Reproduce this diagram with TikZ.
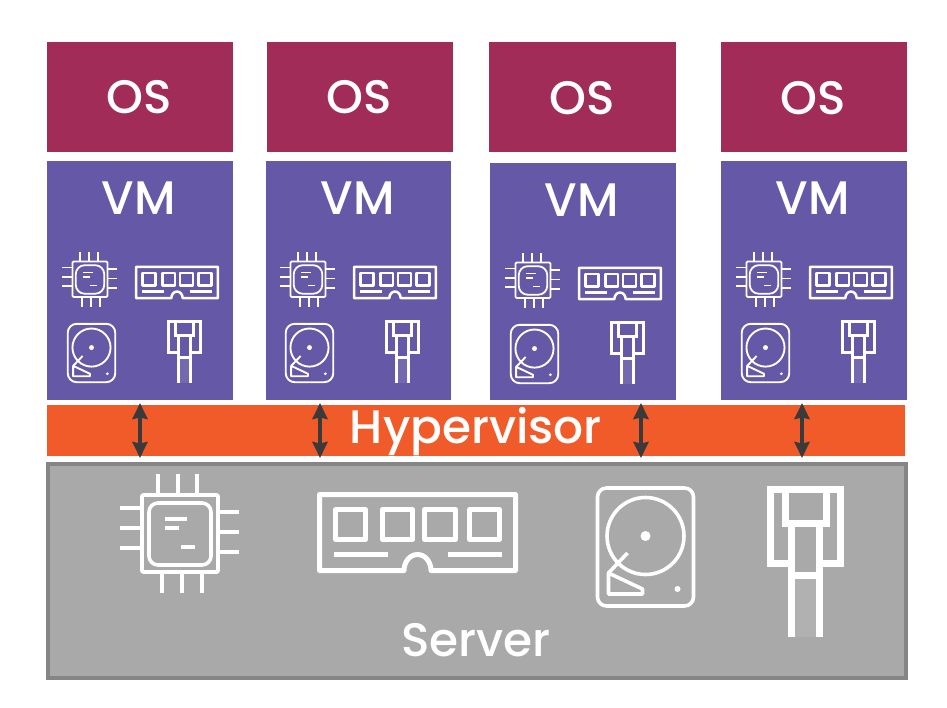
\documentclass[tikz,border=0pt]{standalone}
\usepackage{fontspec}
\setmainfont{Poppins Medium}
\usetikzlibrary{arrows.meta}
\definecolor{oscol}{HTML}{A12C58}
\definecolor{vmcol}{HTML}{6558A6}
\definecolor{hvcol}{HTML}{F15A29}
\definecolor{svcol}{HTML}{A9A9A9}
\definecolor{svline}{HTML}{858585}
\definecolor{arcol}{HTML}{3A3A3A}
\tikzset{
  panel/.style={inner sep=0pt,outer sep=0pt,draw=none,anchor=north west},
  lbl/.style={text=white,inner sep=0pt,font=\fontsize{47}{47}\selectfont},
  ico/.style={draw=white,line join=round},
  updown/.style={draw=arcol,line width=3.8pt,{Stealth[inset=1.5pt,length=16pt,width=15pt]}-{Stealth[inset=1.5pt,length=16pt,width=15pt]}},
  pics/cpu/.style={code={
    \draw[ico,rounded corners=1pt] (-38,-38) rectangle (38,39);
    \draw[ico,rounded corners=9pt] (-31,-30) rectangle (31,32);
    \foreach \a in {-22,-2,17} \draw[ico] (\a,-38) -- (\a,-59);
    \foreach \a in {-18,2,22} \draw[ico] (\a,39) -- (\a,60);
    \foreach \a in {-25,-5,15} \draw[ico] (-38,\a) -- (-60,\a);
    \foreach \a in {-21,-1,19} \draw[ico] (38,\a) -- (59,\a);
    \draw[ico] (-15,-14) -- (7,-14) (-15,-5) -- (-1,-5) (1,14) -- (15,14);
  }},
  pics/ram/.style={code={
    \draw[ico] (-98,-38) -- (98,-38) -- (98,38) -- (13.5,38) arc (0:-180:13.5 and 16) -- (-98,38) -- cycle;
    \foreach \a/\b in {-82/-52,-35/-5,7/38,52/82} \draw[ico] (\a,-23) rectangle (\b,7);
    \draw[ico] (-84,21.5) -- (-30,21.5) (30,21.5) -- (84,21.5);
  }},
  pics/hdd/.style={code={
    \draw[ico,rounded corners=9pt] (-48,-59) rectangle (48,59);
    \draw[ico] (0,-11) circle (38.5);
    \fill[white] (0,-11) circle (5);
    \fill[white] (32,42) circle (3);
    \draw[ico] (-37,26) -- (-18,6);
    \draw[ico] (-37,26) -- (-37,47) -- (-3,47) -- (-3,42) -- cycle;
  }},
  pics/jack/.style={code={
    \path[fill=white,fill opacity=.1] (-14,12) rectangle (14,74);
    \draw[ico,line join=miter] (-14,0.5) -- (-35,0.5) -- (-35,-73.5) -- (35,-73.5) -- (35,0.5) -- (14,0.5);
    \draw[ico,line join=miter] (-20.5,-73.5) -- (-20.5,-40) -- (20.5,-40) -- (20.5,-73.5);
    \draw[ico] (-14,-40) -- (-14,74) (14,-40) -- (14,74);
    \draw[ico] (-14,12) -- (14,12);
  }}
}
\newcommand{\smallset}[2]{%
  \pic[line width=1.8pt,xscale=.46,yscale=.46] at (#1+90,#2+279) {cpu};
  \pic[line width=2.5pt,xscale=.418,yscale=.41] at (#1+177,#2+282.5) {ram};
  \pic[line width=1.9pt,xscale=.495,yscale=.495] at (#1+91.5,#2+353) {hdd};
  \pic[line width=3pt,xscale=.45,yscale=.42] at (#1+184.5,#2+352) {jack};
}
\begin{document}
\begin{tikzpicture}[x=1pt,y=-1pt]
\useasboundingbox (0,0) rectangle (947,707);
\fill[white] (0,0) rectangle (947,707);
% OS
\node[panel,fill=oscol,minimum width=186pt,minimum height=110pt] (os1) at (47,42) {};
\node[panel,fill=oscol,minimum width=186pt,minimum height=110pt] (os2) at (267,42) {};
\node[panel,fill=oscol,minimum width=187pt,minimum height=110pt] (os3) at (489,42) {};
\node[panel,fill=oscol,minimum width=186pt,minimum height=110pt] (os4) at (721,42) {};
\node[lbl] (ost1) at (139,97) {OS};
\node[lbl] (ost2) at (359,97) {OS};
\node[lbl] (ost3) at (582,98) {OS};
\node[lbl] (ost4) at (813,98) {OS};
% VM
\node[panel,fill=vmcol,minimum width=186pt,minimum height=239pt] (vm1) at (47,161) {};
\node[panel,fill=vmcol,minimum width=185pt,minimum height=239pt] (vm2) at (266,161) {};
\node[panel,fill=vmcol,minimum width=186pt,minimum height=237pt] (vm3) at (490,163) {};
\node[panel,fill=vmcol,minimum width=186pt,minimum height=239pt] (vm4) at (721,161) {};
\node[lbl] (vmt1) at (139,198) {VM};
\node[lbl] (vmt2) at (358,198) {VM};
\node[lbl] (vmt3) at (582,200) {VM};
\node[lbl] (vmt4) at (813,198) {VM};
% icons
\smallset{0}{0}
\smallset{218}{0}
\smallset{443}{1}
\smallset{674}{0}
% Hypervisor
\node[panel,fill=hvcol,minimum width=858pt,minimum height=51pt] (hv) at (47,405) {};
\node[lbl] (hvt) at (476,432) {Hypervisor};
% Server
\node[panel,fill=svcol,draw=svline,line width=3.5pt,minimum width=858pt,minimum height=214pt] (sv) at (48,464) {};
\node[lbl] (svt) at (476,640) {Server};
\pic[line width=3.6pt] at (180,533) {cpu};
\pic[line width=5pt] at (417.5,532.5) {ram};
\pic[line width=3.6pt] at (645.5,547) {hdd};
\pic[line width=7pt] at (805.5,563) {jack};
% arrows
\coordinate (a1t) at (140,403); \coordinate (a1b) at (140,458);
\coordinate (a2t) at (320,403); \coordinate (a2b) at (320,458);
\coordinate (a3t) at (641,403); \coordinate (a3b) at (641,458);
\coordinate (a4t) at (802,403); \coordinate (a4b) at (802,458);
\draw[updown] (a1t) -- (a1b);
\draw[updown] (a2t) -- (a2b);
\draw[updown] (a3t) -- (a3b);
\draw[updown] (a4t) -- (a4b);
\end{tikzpicture}
\end{document}
